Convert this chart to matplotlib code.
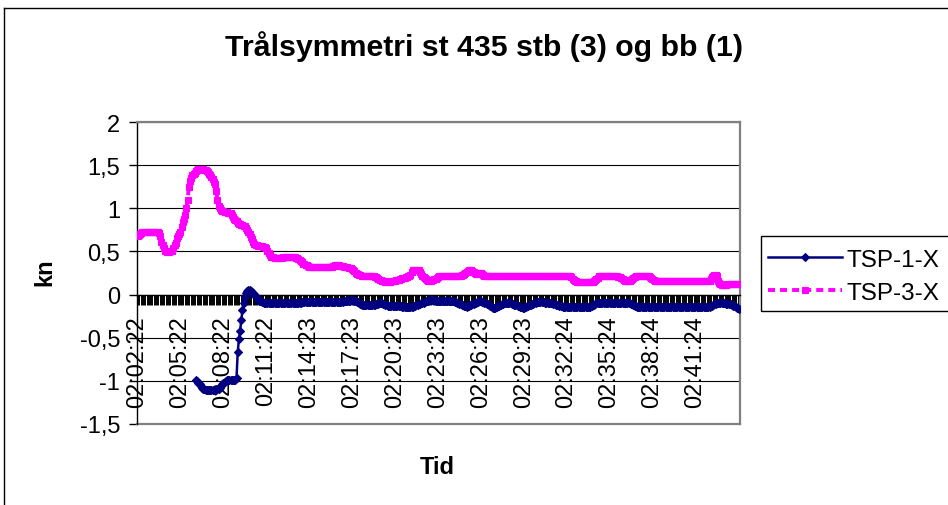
import numpy as np
import matplotlib.pyplot as plt
from matplotlib.lines import Line2D
from matplotlib.patches import Rectangle

plt.rcParams['font.family'] = ['Liberation Sans', 'DejaVu Sans']

nan = np.nan

# TSP-3-X (stb), one value per 5 s sample, 12 per row = 1 minute
tsp3 = [
    0.68, 0.69, 0.70, 0.71, 0.72, 0.72, 0.73, 0.73, 0.73, 0.73, 0.73, 0.73,
    0.73, 0.73, 0.73, 0.73, 0.73, 0.73, 0.71, 0.68, 0.61, 0.57, 0.54, 0.51,
    0.50, 0.49, 0.49, 0.50, 0.50, 0.51, 0.54, 0.57, 0.60, 0.65, 0.68, 0.70,
    0.73, 0.78, 0.84, 0.88, 0.92, 1.00, 1.10, 1.25, 1.32, 1.35, 1.38, 1.40,
    1.41, 1.43, 1.44, 1.45, 1.45, 1.45, 1.45, 1.45, 1.44, 1.44, 1.43, 1.42,
    1.40, 1.38, 1.36, 1.34, 1.31, 1.28, 1.20, 1.10, 1.03, 1.00, 0.98, 0.97,
    0.97, 0.96, 0.96, 0.96, 0.95, 0.95, 0.94, 0.92, 0.90, 0.88, 0.87, 0.85,
    0.83, 0.82, 0.82, 0.81, 0.81, 0.80, 0.79, 0.77, 0.75, 0.73, 0.70, 0.67,
    0.64, 0.61, 0.59, 0.57, 0.57, 0.56, 0.56, 0.56, 0.56, 0.55, 0.55, 0.55,
    0.54, 0.51, 0.48, 0.46, 0.44, 0.43, 0.43, 0.42, 0.42, 0.42, 0.42, 0.42,
    0.42, 0.42, 0.43, 0.43, 0.44, 0.44, 0.44, 0.44, 0.44, 0.44, 0.44, 0.43,
    0.43, 0.42, 0.42, 0.41, 0.40, 0.39, 0.38, 0.36, 0.35, 0.34, 0.34, 0.33,
    0.32, 0.32, 0.32, 0.32, 0.32, 0.32, 0.32, 0.32, 0.32, 0.32, 0.32, 0.32,
    0.32, 0.32, 0.32, 0.32, 0.32, 0.32, 0.32, 0.32, 0.33, 0.33, 0.34, 0.34,
    0.34, 0.34, 0.33, 0.33, 0.33, 0.32, 0.32, 0.32, 0.32, 0.31, 0.31, 0.31,
    0.30, 0.28, 0.27, 0.25, 0.24, 0.24, 0.23, 0.23, 0.22, 0.22, 0.22, 0.22,
    0.22, 0.22, 0.21, 0.21, 0.21, 0.21, 0.21, 0.20, 0.20, 0.19, 0.18, 0.17,
    0.17, 0.16, 0.16, 0.16, 0.15, 0.15, 0.15, 0.15, 0.15, 0.16, 0.16, 0.16,
    0.16, 0.17, 0.17, 0.17, 0.18, 0.18, 0.19, 0.19, 0.19, 0.20, 0.20, 0.21,
    0.22, 0.23, 0.26, 0.28, 0.28, 0.29, 0.29, 0.28, 0.28, 0.26, 0.24, 0.22,
    0.20, 0.19, 0.18, 0.17, 0.16, 0.16, 0.16, 0.17, 0.17, 0.18, 0.18, 0.19,
    0.20, 0.21, 0.21, 0.21, 0.21, 0.21, 0.21, 0.21, 0.22, 0.22, 0.22, 0.22,
    0.22, 0.22, 0.22, 0.22, 0.22, 0.22, 0.22, 0.22, 0.23, 0.23, 0.24, 0.25,
    0.26, 0.27, 0.28, 0.28, 0.28, 0.27, 0.26, 0.25, 0.24, 0.24, 0.25, 0.25,
    0.25, 0.24, 0.23, 0.22, 0.22, 0.22, 0.22, 0.21, 0.21, 0.21, 0.21, 0.21,
    0.21, 0.21, 0.21, 0.21, 0.21, 0.21, 0.21, 0.21, 0.21, 0.21, 0.21, 0.21,
    0.21, 0.21, 0.21, 0.21, 0.21, 0.21, 0.21, 0.21, 0.21, 0.21, 0.21, 0.21,
    0.21, 0.21, 0.21, 0.21, 0.21, 0.21, 0.21, 0.21, 0.21, 0.21, 0.21, 0.21,
    0.21, 0.21, 0.21, 0.21, 0.21, 0.21, 0.21, 0.21, 0.21, 0.21, 0.21, 0.21,
    0.21, 0.21, 0.21, 0.21, 0.21, 0.21, 0.21, 0.21, 0.21, 0.21, 0.21, 0.21,
    0.21, 0.21, 0.21, 0.21, 0.20, 0.18, 0.17, 0.16, 0.16, 0.15, 0.15, 0.15,
    0.15, 0.15, 0.15, 0.15, 0.15, 0.15, 0.15, 0.15, 0.15, 0.15, 0.15, 0.16,
    0.17, 0.18, 0.19, 0.21, 0.22, 0.22, 0.22, 0.22, 0.22, 0.21, 0.21, 0.21,
    0.21, 0.21, 0.21, 0.21, 0.21, 0.21, 0.21, 0.20, 0.20, 0.20, 0.19, 0.18,
    0.17, 0.16, 0.16, 0.16, 0.16, 0.16, 0.17, 0.18, 0.19, 0.20, 0.21, 0.21,
    0.21, 0.21, 0.21, 0.21, 0.21, 0.21, 0.21, 0.21, 0.21, 0.21, 0.20, 0.19,
    0.18, 0.17, 0.16, 0.16, 0.16, 0.16, 0.16, 0.16, 0.16, 0.16, 0.16, 0.16,
    0.16, 0.16, 0.16, 0.16, 0.16, 0.16, 0.16, 0.16, 0.16, 0.16, 0.16, 0.16,
    0.16, 0.16, 0.16, 0.16, 0.16, 0.16, 0.16, 0.16, 0.16, 0.16, 0.16, 0.16,
    0.16, 0.16, 0.16, 0.16, 0.16, 0.16, 0.16, 0.16, 0.16, 0.16, 0.16, 0.16,
    0.16, 0.18, 0.20, 0.22, 0.23, 0.23, 0.21, 0.16, 0.13, 0.12, 0.11, 0.11,
    0.11, 0.11, 0.11, 0.12, 0.12, 0.12, 0.12, 0.12, 0.12, 0.12, 0.12, 0.12,
    0.12, 0.12,
]

# TSP-1-X (bb), same samples, no data in the first four minutes
tsp1 = [
    nan, nan, nan, nan, nan, nan, nan, nan, nan, nan, nan, nan,
    nan, nan, nan, nan, nan, nan, nan, nan, nan, nan, nan, nan,
    nan, nan, nan, nan, nan, nan, nan, nan, nan, nan, nan, nan,
    nan, nan, nan, nan, nan, nan, nan, nan, nan, nan, nan, nan,
    nan, -0.99, -1.00, -1.02, -1.04, -1.06, -1.08, -1.09, -1.10, -1.11, -1.11, -1.11,
    -1.11, -1.11, -1.11, -1.11, -1.11, -1.11, -1.11, -1.10, -1.09, -1.08, -1.06, -1.04,
    -1.03, -1.01, -1.00, -0.99, -0.99, -0.99, -0.99, -0.99, -0.99, -0.99, -0.99, -0.97,
    -0.67, -0.52, -0.42, -0.30, -0.18, -0.10, -0.03, 0.02, 0.04, 0.05, 0.05, 0.04,
    0.03, 0.02, 0.00, -0.02, -0.04, -0.05, -0.07, -0.08, -0.09, -0.09, -0.10, -0.10,
    -0.10, -0.10, -0.10, -0.10, -0.10, -0.10, -0.10, -0.10, -0.10, -0.10, -0.10, -0.10,
    -0.10, -0.10, -0.10, -0.10, -0.10, -0.10, -0.10, -0.10, -0.10, -0.10, -0.10, -0.10,
    -0.10, -0.10, -0.10, -0.10, -0.10, -0.10, -0.09, -0.09, -0.09, -0.09, -0.09, -0.09,
    -0.09, -0.09, -0.09, -0.09, -0.09, -0.09, -0.09, -0.09, -0.09, -0.09, -0.09, -0.09,
    -0.09, -0.09, -0.09, -0.09, -0.09, -0.09, -0.09, -0.09, -0.09, -0.09, -0.09, -0.09,
    -0.09, -0.09, -0.09, -0.09, -0.09, -0.08, -0.08, -0.08, -0.08, -0.07, -0.07, -0.06,
    -0.06, -0.06, -0.07, -0.08, -0.09, -0.09, -0.10, -0.11, -0.12, -0.12, -0.12, -0.12,
    -0.12, -0.12, -0.12, -0.12, -0.12, -0.12, -0.12, -0.12, -0.11, -0.11, -0.11, -0.10,
    -0.10, -0.10, -0.11, -0.11, -0.12, -0.12, -0.13, -0.13, -0.13, -0.13, -0.13, -0.13,
    -0.13, -0.13, -0.13, -0.13, -0.13, -0.13, -0.14, -0.14, -0.14, -0.14, -0.14, -0.14,
    -0.14, -0.14, -0.14, -0.14, -0.13, -0.13, -0.12, -0.12, -0.11, -0.11, -0.10, -0.10,
    -0.10, -0.09, -0.08, -0.08, -0.07, -0.06, -0.06, -0.06, -0.06, -0.06, -0.07, -0.07,
    -0.07, -0.07, -0.07, -0.07, -0.07, -0.07, -0.08, -0.08, -0.08, -0.08, -0.08, -0.08,
    -0.08, -0.08, -0.09, -0.09, -0.10, -0.10, -0.11, -0.11, -0.12, -0.12, -0.13, -0.13,
    -0.14, -0.13, -0.13, -0.12, -0.12, -0.11, -0.11, -0.10, -0.10, -0.09, -0.09, -0.08,
    -0.08, -0.09, -0.09, -0.10, -0.10, -0.11, -0.11, -0.12, -0.13, -0.14, -0.15, -0.15,
    -0.15, -0.14, -0.14, -0.13, -0.12, -0.12, -0.11, -0.11, -0.10, -0.10, -0.10, -0.10,
    -0.10, -0.10, -0.11, -0.11, -0.12, -0.12, -0.12, -0.13, -0.13, -0.14, -0.14, -0.15,
    -0.15, -0.14, -0.14, -0.13, -0.13, -0.12, -0.12, -0.11, -0.11, -0.10, -0.10, -0.09,
    -0.09, -0.09, -0.09, -0.09, -0.09, -0.09, -0.10, -0.10, -0.10, -0.10, -0.10, -0.10,
    -0.10, -0.11, -0.11, -0.12, -0.12, -0.12, -0.13, -0.13, -0.13, -0.14, -0.14, -0.14,
    -0.14, -0.14, -0.14, -0.14, -0.14, -0.14, -0.14, -0.14, -0.14, -0.14, -0.14, -0.14,
    -0.14, -0.14, -0.14, -0.14, -0.14, -0.14, -0.14, -0.14, -0.14, -0.13, -0.12, -0.12,
    -0.11, -0.10, -0.10, -0.10, -0.10, -0.10, -0.10, -0.10, -0.10, -0.10, -0.10, -0.10,
    -0.10, -0.10, -0.10, -0.10, -0.10, -0.10, -0.10, -0.10, -0.10, -0.10, -0.10, -0.10,
    -0.10, -0.10, -0.10, -0.10, -0.10, -0.10, -0.11, -0.11, -0.12, -0.13, -0.13, -0.14,
    -0.14, -0.14, -0.14, -0.14, -0.14, -0.14, -0.14, -0.14, -0.14, -0.14, -0.14, -0.14,
    -0.14, -0.14, -0.14, -0.14, -0.14, -0.14, -0.14, -0.14, -0.14, -0.14, -0.14, -0.14,
    -0.14, -0.14, -0.14, -0.14, -0.14, -0.14, -0.14, -0.14, -0.14, -0.14, -0.14, -0.14,
    -0.14, -0.14, -0.14, -0.14, -0.14, -0.14, -0.14, -0.14, -0.14, -0.14, -0.14, -0.14,
    -0.14, -0.14, -0.14, -0.14, -0.14, -0.14, -0.14, -0.14, -0.14, -0.14, -0.14, -0.14,
    -0.14, -0.13, -0.13, -0.12, -0.11, -0.11, -0.10, -0.10, -0.10, -0.10, -0.10, -0.10,
    -0.10, -0.10, -0.11, -0.11, -0.11, -0.11, -0.11, -0.12, -0.13, -0.13, -0.14, -0.15,
    -0.16, -0.17,
]

time_labels = ['02:02:22', '02:05:22', '02:08:22', '02:11:22', '02:14:23', '02:17:23', '02:20:23',
               '02:23:23', '02:26:23', '02:29:23', '02:32:24', '02:35:24', '02:38:24', '02:41:24']
label_step = 36  # a label every 36 samples (3 min)

y_ticks = [-1.5, -1, -0.5, 0, 0.5, 1, 1.5, 2]
y_tick_labels = ['-1,5', '-1', '-0,5', '0', '0,5', '1', '1,5', '2']

W, H = 948, 506
fig = plt.figure(figsize=(W / 100, H / 100), dpi=100)
ax = fig.add_axes([137 / W, 1 - 425 / H, 603 / W, 302 / H])

n = len(tsp3)
x = np.arange(n)
l1, = ax.plot(x, tsp1, color='#000080', lw=1.8, marker='D', ms=3.6, mew=0.8, label='TSP-1-X', zorder=3)
l3, = ax.plot(x, tsp3, color='#FF00FF', lw=2.8, dashes=(1.8, 1.3), marker='s', ms=4.4, mew=0.8,
              label='TSP-3-X', zorder=3)

ax.set_xlim(-0.5, n - 0.5)
ax.set_ylim(-1.5, 2)

# value axis
ax.set_yticks(y_ticks)
ax.set_yticklabels(y_tick_labels, fontsize=17)
ax.tick_params(axis='y', direction='out', length=6, width=1, pad=6, color='black')
ax.yaxis.grid(True, color='black', lw=0.8)
ax.set_axisbelow(True)

# category axis crosses at 0, a tick mark for every sample
ax.spines['bottom'].set_position(('data', 0))
ax.spines['bottom'].set_linewidth(1)
ax.set_xticks(x[:len(time_labels) * label_step:label_step])
ax.set_xticklabels(time_labels, rotation=90, fontsize=17)
ax.set_xticks(np.arange(n + 1) - 0.5, minor=True)
ax.tick_params(axis='x', which='major', length=0, pad=15)
ax.tick_params(axis='x', which='minor', direction='out', length=7, width=0.7, color='black')
for t in ax.xaxis.get_minor_ticks():
    t.tick1line.set_snap(False)

for s in ['top', 'right']:
    ax.spines[s].set_color('#808080')
    ax.spines[s].set_linewidth(1.6)
ax.spines['left'].set_linewidth(1)
ax.axhline(-1.5, color='#808080', lw=1.6, clip_on=False, zorder=1)

fig.text(484 / W, 1 - 47 / H, 'Trålsymmetri st 435 stb (3) og bb (1)', ha='center', va='center',
         fontsize=21.8, weight='bold')
fig.text(45 / W, 1 - 272 / H, 'kn', rotation=90, ha='center', va='center', fontsize=17, weight='bold')
fig.text(437 / W, 1 - 468 / H, 'Tid', ha='center', va='center', fontsize=17, weight='bold')

leg = ax.legend(handles=[l1, l3], loc='upper left', bbox_to_anchor=(755 / W, 1 - 237 / H),
                bbox_transform=fig.transFigure, fontsize=17.5, numpoints=1, frameon=False,
                handlelength=3.05, handletextpad=0.2, labelspacing=0.44, borderpad=0.53,
                borderaxespad=0)
# legend box runs off the right edge of the picture
fig.add_artist(Rectangle((761 / W, 1 - 312 / H), 200 / W, 75 / H, transform=fig.transFigure,
                         fill=False, edgecolor='black', lw=1, clip_on=False))

# outer chart border (left and top visible)
fig.add_artist(Line2D([3.5 / W, 3.5 / W], [0, 1 - 8.5 / H], transform=fig.transFigure, color='black', lw=1))
fig.add_artist(Line2D([3.5 / W, 1], [1 - 8.5 / H, 1 - 8.5 / H], transform=fig.transFigure, color='black', lw=1))

fig.savefig('out.png', dpi=100)
